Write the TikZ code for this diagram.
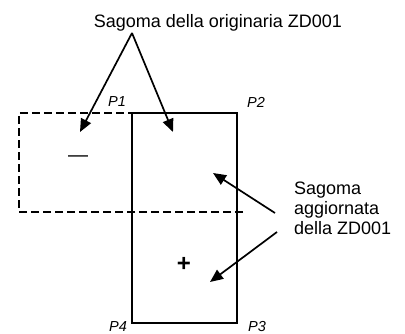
\documentclass[tikz,border=0pt]{standalone}
\usepackage{fontspec}
\setmainfont{Liberation Sans}
\usetikzlibrary{arrows.meta}

\tikzset{
    outline/.style={line width=1.7pt},
    oldline/.style={line width=1.7pt, dash pattern=on 8pt off 4pt},
    pointer/.style={line width=1.7pt, -{Triangle[length=13pt,width=11pt]}},
    corner/.style={font=\fontsize{14.5}{16}\selectfont\itshape, inner sep=0pt},
    caption/.style={font=\fontsize{18}{20}\selectfont, inner sep=0pt, align=left},
}

\begin{document}
\begin{tikzpicture}[x=1pt,y=-1pt]
    \useasboundingbox (0,0) rectangle (405,334);

    \coordinate (p1) at (132,113);      % corners of the updated outline
    \coordinate (p2) at (237,113);
    \coordinate (p3) at (237,323);
    \coordinate (p4) at (132,323);

    \coordinate (o1) at (19,113);       % corners of the original outline
    \coordinate (o4) at (19,212);
    \coordinate (o3) at (243,212);

    \draw [oldline] (o3) -- (o4) -- (o1) -- (p1);   % original outline
    \draw [outline] (p1) -- (p2) -- (p3) -- (p4) -- cycle;  % updated outline

    \node [corner] (lp1) at (117,102) {P1};
    \node [corner] (lp2) at (256,102) {P2};
    \node [corner] (lp3) at (257,327) {P3};
    \node [corner] (lp4) at (118,327) {P4};

    \node [font=\fontsize{20}{22}\selectfont, inner sep=0pt] (minus) at (78,159) {---};
    \node [font=\fontsize{24}{26}\selectfont\bfseries, inner sep=0pt] (plus) at (184,264) {+};

    \node [caption, anchor=base] (orig) at (218,28) {Sagoma della originaria ZD001};
    \node [caption, anchor=base west] (agg) at (294,235) {Sagoma\\aggiornata\\della ZD001};

    \coordinate (apex) at (132,33);     % arrows from the top label
    \coordinate (tipold) at (80,132);
    \coordinate (tipnew) at (173,132);
    \draw [pointer] (apex) -- (tipold);
    \draw [pointer] (apex) -- (tipnew);

    \coordinate (from1) at (275,213);   % arrows from the right label
    \coordinate (from2) at (277,232);
    \coordinate (tipup) at (213,173);
    \coordinate (tipdown) at (210,282);
    \draw [pointer] (from1) -- (tipup);
    \draw [pointer] (from2) -- (tipdown);
\end{tikzpicture}
\end{document}
